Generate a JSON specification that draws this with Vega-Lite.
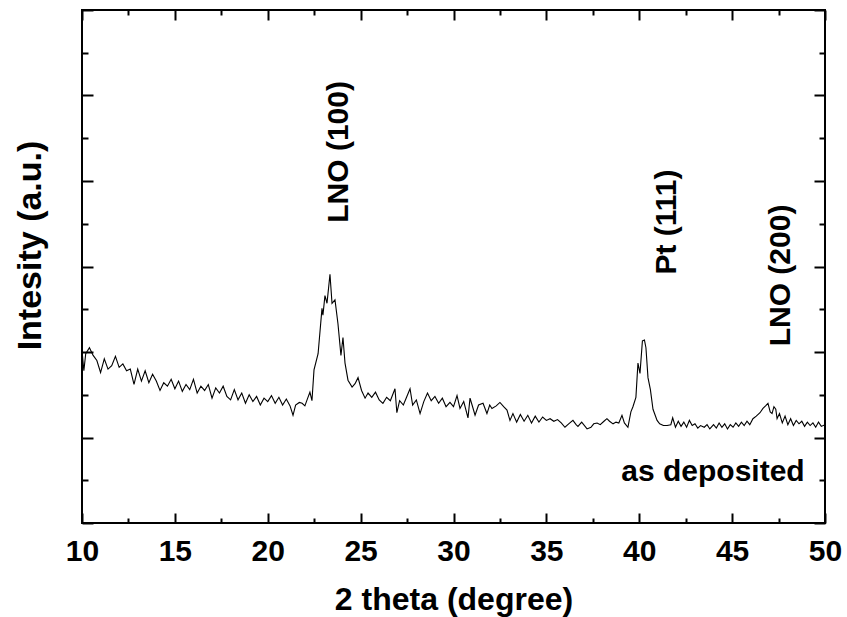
{
  "$schema": "https://vega.github.io/schema/vega-lite/v6.json",
  "width": 743,
  "height": 513,
  "autosize": {"type": "none"},
  "padding": {"left": 82, "top": 10, "right": 22, "bottom": 94},
  "background": "white",
  "config": {"view": {"stroke": "black", "strokeWidth": 2}, "font": "Liberation Sans"},
  "datasets": {
    "xrd": [
      {"t":10.0,"i":2.02},{"t":10.1,"i":1.78},{"t":10.2,"i":1.98},{"t":10.4,"i":2.05},{"t":10.6,"i":1.96},{"t":10.8,"i":1.90},
      {"t":11.0,"i":1.76},{"t":11.2,"i":1.92},{"t":11.4,"i":1.80},{"t":11.6,"i":1.84},{"t":11.8,"i":1.95},
      {"t":12.0,"i":1.82},{"t":12.2,"i":1.86},{"t":12.4,"i":1.78},{"t":12.6,"i":1.80},{"t":12.8,"i":1.62},
      {"t":13.0,"i":1.80},{"t":13.2,"i":1.66},{"t":13.4,"i":1.78},{"t":13.6,"i":1.64},{"t":13.8,"i":1.74},
      {"t":14.0,"i":1.66},{"t":14.2,"i":1.55},{"t":14.4,"i":1.64},{"t":14.6,"i":1.60},{"t":14.8,"i":1.68},
      {"t":15.0,"i":1.57},{"t":15.2,"i":1.66},{"t":15.4,"i":1.54},{"t":15.6,"i":1.62},{"t":15.8,"i":1.56},
      {"t":16.0,"i":1.68},{"t":16.2,"i":1.52},{"t":16.4,"i":1.60},{"t":16.6,"i":1.55},{"t":16.8,"i":1.62},
      {"t":17.0,"i":1.46},{"t":17.2,"i":1.58},{"t":17.4,"i":1.52},{"t":17.6,"i":1.60},{"t":17.8,"i":1.48},
      {"t":18.0,"i":1.44},{"t":18.2,"i":1.56},{"t":18.4,"i":1.44},{"t":18.6,"i":1.52},{"t":18.8,"i":1.40},
      {"t":19.0,"i":1.50},{"t":19.2,"i":1.42},{"t":19.4,"i":1.48},{"t":19.6,"i":1.38},{"t":19.8,"i":1.46},
      {"t":20.0,"i":1.42},{"t":20.2,"i":1.49},{"t":20.4,"i":1.40},{"t":20.6,"i":1.47},{"t":20.8,"i":1.38},
      {"t":21.0,"i":1.45},{"t":21.2,"i":1.37},{"t":21.36,"i":1.26},{"t":21.5,"i":1.38},{"t":21.7,"i":1.41},
      {"t":21.85,"i":1.40},{"t":22.0,"i":1.37},{"t":22.15,"i":1.46},{"t":22.27,"i":1.53},{"t":22.38,"i":1.43},
      {"t":22.49,"i":1.79},{"t":22.71,"i":1.98},{"t":22.92,"i":2.51},{"t":22.97,"i":2.43},{"t":23.08,"i":2.66},
      {"t":23.19,"i":2.57},{"t":23.35,"i":2.91},{"t":23.46,"i":2.57},{"t":23.62,"i":2.61},{"t":23.78,"i":2.33},
      {"t":23.94,"i":1.96},{"t":24.05,"i":2.17},{"t":24.16,"i":1.87},{"t":24.32,"i":1.67},{"t":24.54,"i":1.59},
      {"t":24.70,"i":1.63},{"t":24.86,"i":1.70},{"t":25.05,"i":1.55},{"t":25.24,"i":1.46},{"t":25.4,"i":1.52},
      {"t":25.6,"i":1.47},{"t":25.8,"i":1.53},{"t":26.0,"i":1.44},{"t":26.2,"i":1.40},{"t":26.4,"i":1.47},
      {"t":26.6,"i":1.43},{"t":26.85,"i":1.57},{"t":26.95,"i":1.29},{"t":27.1,"i":1.43},{"t":27.3,"i":1.38},
      {"t":27.45,"i":1.46},{"t":27.66,"i":1.57},{"t":27.8,"i":1.38},{"t":28.0,"i":1.44},{"t":28.2,"i":1.28},
      {"t":28.4,"i":1.42},{"t":28.6,"i":1.52},{"t":28.8,"i":1.43},{"t":29.0,"i":1.48},{"t":29.2,"i":1.40},
      {"t":29.4,"i":1.46},{"t":29.6,"i":1.36},{"t":29.81,"i":1.41},{"t":30.0,"i":1.36},{"t":30.19,"i":1.49},
      {"t":30.35,"i":1.34},{"t":30.55,"i":1.42},{"t":30.78,"i":1.23},{"t":30.89,"i":1.46},{"t":31.0,"i":1.38},
      {"t":31.16,"i":1.26},{"t":31.35,"i":1.38},{"t":31.59,"i":1.40},{"t":31.8,"i":1.28},{"t":31.95,"i":1.38},
      {"t":32.07,"i":1.34},{"t":32.3,"i":1.37},{"t":32.5,"i":1.41},{"t":32.7,"i":1.36},{"t":32.88,"i":1.32},
      {"t":33.04,"i":1.20},{"t":33.2,"i":1.28},{"t":33.4,"i":1.18},{"t":33.6,"i":1.27},{"t":33.8,"i":1.19},
      {"t":34.0,"i":1.26},{"t":34.2,"i":1.17},{"t":34.4,"i":1.25},{"t":34.6,"i":1.18},{"t":34.8,"i":1.24},
      {"t":35.0,"i":1.20},{"t":35.2,"i":1.22},{"t":35.4,"i":1.19},{"t":35.6,"i":1.21},{"t":35.8,"i":1.17},
      {"t":36.0,"i":1.12},{"t":36.2,"i":1.16},{"t":36.43,"i":1.20},{"t":36.6,"i":1.15},{"t":36.7,"i":1.13},
      {"t":36.9,"i":1.18},{"t":37.19,"i":1.10},{"t":37.4,"i":1.12},{"t":37.55,"i":1.16},{"t":37.73,"i":1.17},
      {"t":37.9,"i":1.15},{"t":38.1,"i":1.19},{"t":38.26,"i":1.22},{"t":38.4,"i":1.19},{"t":38.59,"i":1.16},
      {"t":38.75,"i":1.18},{"t":38.9,"i":1.17},{"t":39.07,"i":1.26},{"t":39.2,"i":1.17},{"t":39.39,"i":1.12},
      {"t":39.55,"i":1.30},{"t":39.66,"i":1.36},{"t":39.82,"i":1.47},{"t":39.93,"i":1.87},{"t":40.04,"i":1.75},
      {"t":40.17,"i":2.13},{"t":40.28,"i":2.14},{"t":40.36,"i":2.05},{"t":40.47,"i":1.70},{"t":40.6,"i":1.56},
      {"t":40.74,"i":1.33},{"t":40.96,"i":1.20},{"t":41.1,"i":1.16},{"t":41.3,"i":1.14},{"t":41.5,"i":1.14},
      {"t":41.7,"i":1.15},{"t":41.8,"i":1.23},{"t":41.95,"i":1.12},{"t":42.1,"i":1.19},{"t":42.25,"i":1.13},
      {"t":42.4,"i":1.18},{"t":42.55,"i":1.12},{"t":42.7,"i":1.20},{"t":42.85,"i":1.14},{"t":43.0,"i":1.16},
      {"t":43.15,"i":1.11},{"t":43.3,"i":1.14},{"t":43.5,"i":1.12},{"t":43.65,"i":1.15},{"t":43.8,"i":1.10},
      {"t":44.0,"i":1.15},{"t":44.15,"i":1.11},{"t":44.3,"i":1.17},{"t":44.45,"i":1.12},{"t":44.6,"i":1.16},
      {"t":44.75,"i":1.10},{"t":44.9,"i":1.15},{"t":45.05,"i":1.12},{"t":45.2,"i":1.17},{"t":45.35,"i":1.13},
      {"t":45.5,"i":1.18},{"t":45.65,"i":1.14},{"t":45.8,"i":1.19},{"t":45.95,"i":1.15},{"t":46.12,"i":1.22},
      {"t":46.3,"i":1.25},{"t":46.5,"i":1.29},{"t":46.66,"i":1.34},{"t":46.8,"i":1.37},{"t":46.93,"i":1.40},
      {"t":47.05,"i":1.30},{"t":47.15,"i":1.28},{"t":47.25,"i":1.36},{"t":47.35,"i":1.33},{"t":47.42,"i":1.22},
      {"t":47.55,"i":1.28},{"t":47.7,"i":1.17},{"t":47.85,"i":1.25},{"t":48.0,"i":1.15},{"t":48.15,"i":1.22},
      {"t":48.3,"i":1.14},{"t":48.45,"i":1.20},{"t":48.6,"i":1.16},{"t":48.75,"i":1.19},{"t":48.9,"i":1.13},
      {"t":49.05,"i":1.18},{"t":49.2,"i":1.14},{"t":49.35,"i":1.17},{"t":49.5,"i":1.12},{"t":49.65,"i":1.18},
      {"t":49.8,"i":1.13},{"t":50.0,"i":1.15}
    ],
    "peaks": [
      {"t": 24.32, "i": 4.34, "label": "LNO (100)"},
      {"t": 41.98, "i": 3.52, "label": "Pt (111)"},
      {"t": 48.12, "i": 2.895, "label": "LNO (200)"}
    ],
    "notes": [
      {"t": 43.97, "i": 0.489, "label": "as deposited"}
    ]
  },
  "layer": [
    {
      "data": {"name": "xrd"},
      "mark": {"type": "line", "color": "black", "strokeWidth": 1.1},
      "encoding": {
        "x": {
          "field": "t", "type": "quantitative",
          "scale": {"domain": [10, 50], "nice": false, "zero": false},
          "axis": {
            "orient": "bottom",
            "values": [10, 12.5, 15, 17.5, 20, 22.5, 25, 27.5, 30, 32.5, 35, 37.5, 40, 42.5, 45, 47.5, 50],
            "labelExpr": "datum.value % 5 === 0 ? datum.label : ''",
            "tickSize": {"condition": {"test": "datum.value % 5 === 0", "value": -10}, "value": -5},
            "tickWidth": 2, "tickColor": "black",
            "domain": false, "grid": false,
            "labelFont": "Liberation Sans", "labelFontSize": 30, "labelFontWeight": "bold", "labelColor": "black",
            "labelPadding": 47, "labelBaseline": "alphabetic", "labelFlush": false, "labelOverlap": false,
            "title": "2 theta (degree)",
            "titleFont": "Liberation Sans", "titleFontSize": 32, "titleFontWeight": "bold", "titleColor": "black",
            "titleBaseline": "alphabetic", "titleY": 86
          }
        },
        "y": {
          "field": "i", "type": "quantitative",
          "scale": {"domain": [0, 6], "nice": false, "zero": false},
          "axis": {
            "orient": "left",
            "values": [0, 0.5, 1, 1.5, 2, 2.5, 3, 3.5, 4, 4.5, 5, 5.5, 6],
            "labels": false,
            "tickSize": {"condition": {"test": "datum.value % 1 === 0", "value": -11}, "value": -6},
            "tickWidth": 2, "tickColor": "black",
            "domain": false, "grid": false,
            "title": "Intesity (a.u.)",
            "titleFont": "Liberation Sans", "titleFontSize": 34, "titleFontWeight": "bold", "titleColor": "black",
            "titleAngle": 270, "titleAlign": "center", "titleBaseline": "alphabetic",
            "titleX": -42, "titleY": 235
          }
        }
      }
    },
    {
      "data": {"name": "xrd"},
      "mark": {"type": "line", "opacity": 0},
      "encoding": {
        "x": {
          "field": "t", "type": "quantitative",
          "axis": {
            "orient": "top",
            "values": [10, 12.5, 15, 17.5, 20, 22.5, 25, 27.5, 30, 32.5, 35, 37.5, 40, 42.5, 45, 47.5, 50],
            "labels": false,
            "tickSize": {"condition": {"test": "datum.value % 5 === 0", "value": -10}, "value": -5},
            "tickWidth": 2, "tickColor": "black",
            "domain": false, "grid": false, "title": null
          }
        },
        "y": {
          "field": "i", "type": "quantitative",
          "axis": {
            "orient": "right",
            "values": [0, 0.5, 1, 1.5, 2, 2.5, 3, 3.5, 4, 4.5, 5, 5.5, 6],
            "labels": false,
            "tickSize": {"condition": {"test": "datum.value % 1 === 0", "value": -11}, "value": -6},
            "tickWidth": 2, "tickColor": "black",
            "domain": false, "grid": false, "title": null
          }
        }
      }
    },
    {
      "data": {"name": "peaks"},
      "mark": {"type": "text", "angle": 270, "align": "center", "baseline": "alphabetic", "font": "Liberation Sans", "fontSize": 30, "fontWeight": "bold", "color": "black"},
      "encoding": {
        "x": {"field": "t", "type": "quantitative", "axis": null},
        "y": {"field": "i", "type": "quantitative", "axis": null},
        "text": {"field": "label"}
      }
    },
    {
      "data": {"name": "notes"},
      "mark": {"type": "text", "align": "center", "baseline": "alphabetic", "font": "Liberation Sans", "fontSize": 30, "fontWeight": "bold", "color": "black"},
      "encoding": {
        "x": {"field": "t", "type": "quantitative", "axis": null},
        "y": {"field": "i", "type": "quantitative", "axis": null},
        "text": {"field": "label"}
      }
    }
  ],
  "resolve": {"axis": {"x": "independent", "y": "independent"}}
}
